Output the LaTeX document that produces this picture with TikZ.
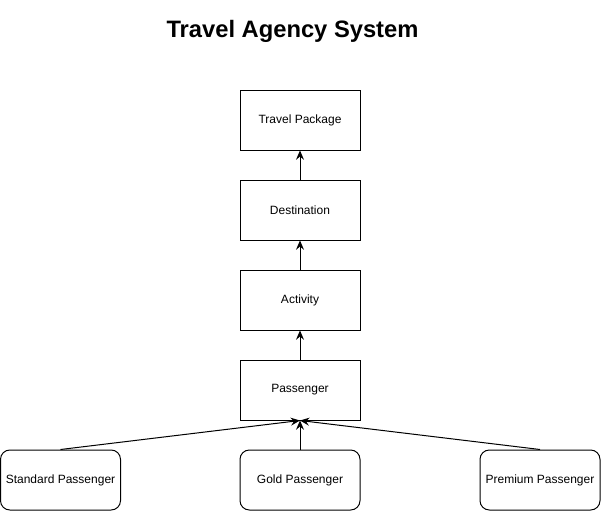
\documentclass[tikz,border=0pt]{standalone}
\usepackage{fontspec}
\setmainfont{Liberation Sans}
\usetikzlibrary{arrows.meta}
\begin{document}
\begin{tikzpicture}[x=0.75pt,y=-0.75pt,
  box/.style={draw,line width=0.75pt,minimum width=90pt,minimum height=45pt,inner sep=0pt,font=\fontsize{9}{11}\selectfont},
  rbox/.style={box,rounded corners=7pt},
  link/.style={line width=0.75pt,-{Stealth[length=7pt,width=6pt,inset=2.5pt]}}]
\useasboundingbox (0,0) rectangle (601,511);
\node[font=\bfseries\fontsize{17.8}{20}\selectfont] (title) at (292.5,31) {Travel Agency System};
\node[box] (tp) at (300,120) {Travel Package};
\node[box] (dest) at (300,210) {Destination};
\node[box] (act) at (300,300) {Activity};
\node[box] (pass) at (300,390) {Passenger};
\node[rbox] (std) at (60.5,480) {Standard Passenger};
\node[rbox] (gold) at (300,480) {Gold Passenger};
\node[rbox] (prem) at (540,480) {Premium Passenger};
\draw[link] (dest.north) -- (tp.south);
\draw[link] (act.north) -- (dest.south);
\draw[link] (pass.north) -- (act.south);
\draw[link] (gold.north) -- (pass.south);
\draw[link] (std.north) -- (pass.south);
\draw[link] (prem.north) -- (pass.south);
\end{tikzpicture}
\end{document}
